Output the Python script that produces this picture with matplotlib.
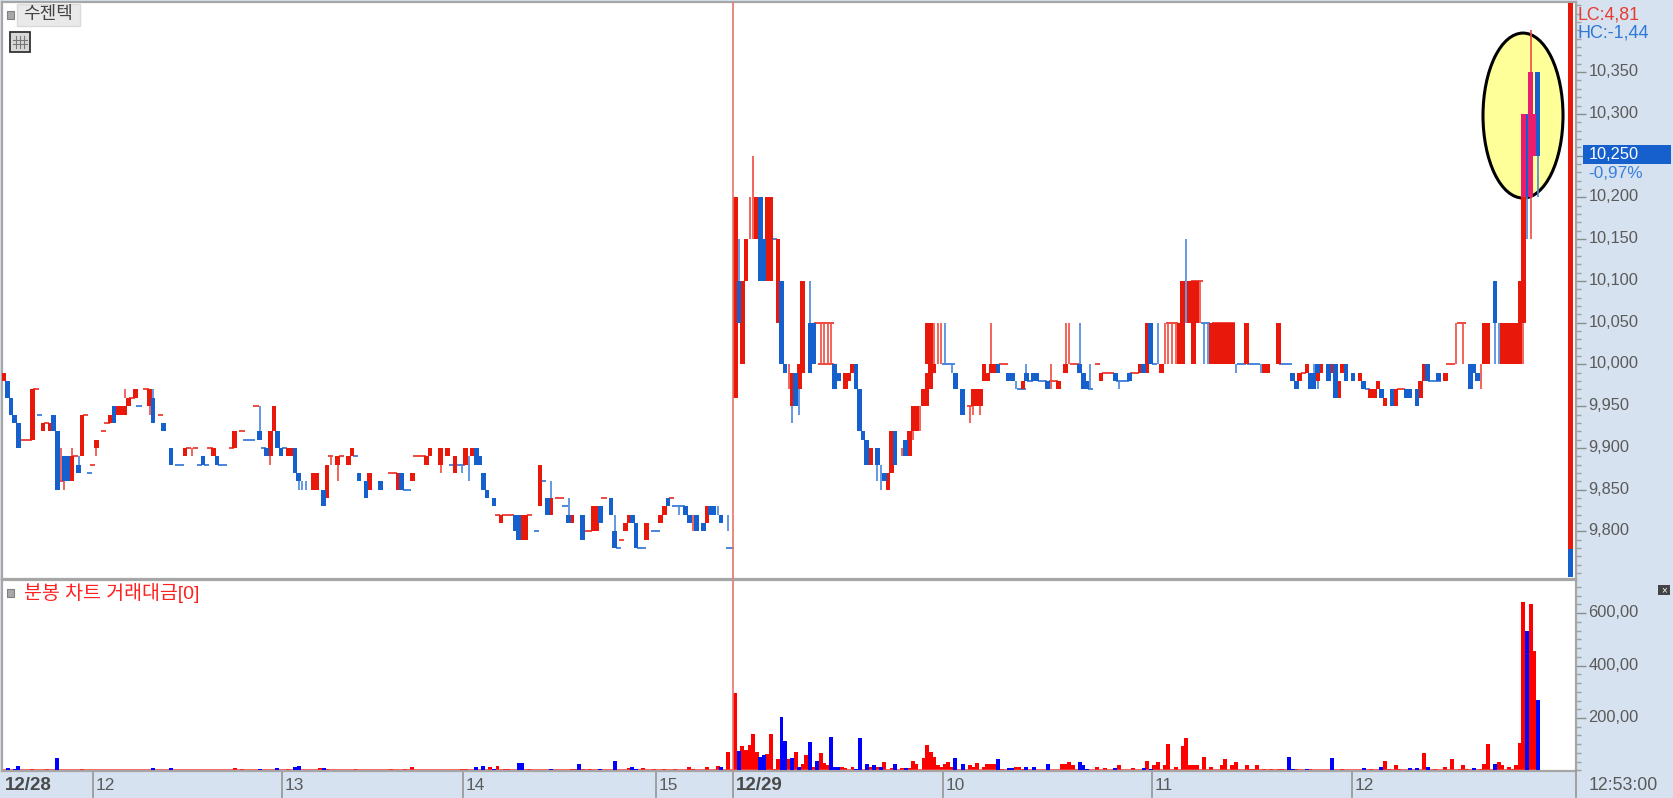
import numpy as np
import matplotlib
matplotlib.use('Agg')
import matplotlib.pyplot as plt
from matplotlib.patches import Ellipse, Rectangle
from matplotlib.ticker import MultipleLocator
from matplotlib.transforms import ScaledTranslation

plt.rcParams['font.family'] = ['Liberation Sans', 'Noto Sans CJK KR', 'DejaVu Sans']

# candle bodies, one slot per traded minute
red_slot = [1,9,12,14,20,23,27,31,33,34,
    35,36,38,42,52,60,66,76,77,81,
    82,88,89,92,95,98,99,104,112,116,
    120,121,124,126,128,131,133,141,147,148,
    152,155,161,167,168,176,177,182,186,187,
    199,207,209,210,213,216,217,219,225,226,
    223,238,239,240,245,250,251,256,257,258,
    260,261,262,261,262,263,274,275,276,277,
    278,279,280,288,298,300,310,321,323,327,
    332,333,335,336,337,341,342,343,344,345,
    346,347,351,356,357,360,366,368,371,372,
    375,377,378,383,386,387,388,390,393,400,
    401,407,418,419,423,424,425,426,427,428,429]
red_lo = [9980,9910,9920,9920,9860,9890,9900,9930,9940,9940,
    9940,9950,9960,9950,9890,9890,9900,9890,9920,9890,
    9890,9850,9850,9840,9880,9880,9890,9850,9850,9860,
    9880,9890,9880,9890,9870,9880,9890,9810,9790,9790,
    9830,9820,9810,9800,9800,9800,9810,9790,9810,9820,
    9810,9960,10000,10100,10150,10100,10100,10050,9970,9990,
    9950,9970,9980,9990,9880,9850,9870,9890,9920,9920,
    9950,9950,9970,10000,10000,9990,9950,9950,9950,9980,
    9980,9990,9990,9970,9970,9990,9980,9990,9990,9990,
    10000,10000,10050,10000,10050,10000,10000,10000,10000,10000,
    10000,10000,10000,9990,9990,10000,9980,9990,9980,9990,
    9990,9960,9990,9980,9960,9960,9970,9950,9950,9960,
    9980,9980,10000,10000,10000,10000,10000,10000,10000,10000,10050]
red_hi = [9990,9970,9930,9930,9890,9940,9910,9940,9950,9950,
    9950,9960,9970,9970,9900,9900,9920,9920,9950,9900,
    9900,9870,9870,9880,9890,9890,9900,9870,9870,9870,
    9890,9900,9900,9900,9890,9900,9900,9820,9820,9820,
    9880,9840,9820,9830,9830,9810,9820,9810,9820,9830,
    9830,10200,10100,10150,10200,10200,10200,10150,10000,10100,
    9990,9990,9990,10000,9900,9870,9920,9920,9950,9950,
    9970,9990,10000,10050,10050,10000,9970,9970,9970,10000,
    9990,10000,10000,9980,9980,10000,9990,10000,10050,10000,
    10050,10100,10100,10100,10100,10050,10050,10050,10050,10050,
    10050,10050,10050,10000,10000,10050,9990,10000,9990,10000,
    10000,9980,10000,9990,9970,9970,9980,9960,9970,9980,
    10000,9990,10050,10050,10050,10050,10050,10050,10050,10100,10200]

blue_slot = [2,3,4,5,15,16,18,19,22,32,
    43,46,48,57,61,73,75,78,79,83,
    84,91,101,103,107,113,134,135,136,137,
    139,145,146,154,160,164,169,172,173,178,
    179,188,193,194,196,198,200,201,203,
    208,214,215,220,221,224,228,229,235,236,
    241,242,243,244,247,249,252,255,269,271,
    281,284,285,289,291,292,295,304,305,306,
    314,318,322,324,364,365,369,370,371,374,
    376,379,381,384,389,392,396,397,399,402,
    405,414,415,416,421,430,433]
blue_lo = [9960,9940,9930,9900,9920,9850,9860,9860,9870,9930,
    9930,9920,9880,9880,9880,9910,9890,9900,9890,9870,
    9860,9830,9860,9840,9850,9850,9880,9880,9850,9840,
    9830,9800,9790,9820,9810,9790,9810,9820,9780,9810,
    9780,9830,9820,9810,9800,9800,9820,9820,9810,
    10050,10100,10100,10000,9990,9950,9990,10000,9970,9980,
    9970,9920,9910,9880,9880,9860,9880,9890,9970,9940,
    9990,9980,9980,9980,9980,9980,9970,9990,9970,9970,
    9980,9980,9990,10000,9980,9970,9970,9970,9990,9980,
    9960,9980,9980,9970,9960,9950,9960,9960,9950,9980,
    9980,9970,9990,9980,10050,10200,10250]
blue_hi = [9980,9960,9940,9930,9940,9920,9890,9890,9880,9950,
    9960,9930,9900,9890,9890,9920,9900,9920,9900,9900,
    9870,9850,9870,9860,9860,9870,9900,9890,9870,9850,
    9840,9820,9820,9840,9820,9820,9830,9840,9800,9820,
    9810,9840,9830,9820,9820,9810,9830,9830,9820,
    10100,10200,10150,10100,10000,9990,10050,10050,10000,9990,
    10000,9970,9920,9910,9900,9870,9920,9910,9990,9970,
    10000,9990,9990,9990,9990,9990,9980,10000,9990,9980,
    9990,9990,10000,10050,9990,9980,9990,9990,10000,10000,
    10000,10000,9990,9980,9970,9970,9970,9970,9970,10000,
    9990,10000,10000,9990,10100,10300,10350]

pink_slot = [429,431,432]
pink_lo = [10200,10200,10250]
pink_hi = [10300,10350,10300]

# thin wicks and doji bars
red_wick_slot = [17,18,20,27,35,42,54,76,93,95,124,195,
    211,212,222,231,232,233,234,263,264,265,254,257,259,273,274,276,279,296,300,301,
    328,329,330,331,338,410,412,417,429,431,431]
red_wick_lo = [9860,9850,9890,9890,9960,9940,9890,9880,9880,9860,9870,9800,
    10150,10150,9970,10000,10000,10000,10000,10000,10000,10000,9890,9910,9920,9930,9940,9940,10000,9970,10000,10000,
    10000,10000,10000,10000,10050,10000,10000,9970,10000,10350,10150]
red_wick_hi = [9900,9860,9900,9900,9970,9950,9900,9890,9890,9880,9880,9820,
    10200,10250,10000,10050,10050,10050,10050,10050,10050,10050,9900,9920,9950,9950,9950,9950,10050,10000,10050,10050,
    10050,10050,10050,10050,10100,10050,10050,10000,10050,10400,10200]

blue_wick_slot = [22,43,73,84,85,86,130,132,155,160,173,191,202,205,
    208,223,225,228,247,248,266,268,286,289,304,307,315,326,334,339,340,348,355,370,371,421,422,430,433]
blue_wick_lo = [9880,9960,9920,9850,9850,9850,9870,9860,9840,9820,9800,9820,9820,9800,
    10100,9930,9940,10050,9860,9850,10000,9990,9970,9990,10000,9970,9970,10000,10050,10000,10000,9990,9990,9990,9970,10000,10000,10150,10200]
blue_wick_hi = [9890,9970,9950,9860,9860,9860,9880,9890,9860,9840,9820,9830,9830,9820,
    10150,9950,9990,10100,9880,9880,10050,10000,9980,10000,10050,10000,9980,10050,10150,10050,10050,10000,10000,10000,9980,10050,10050,10200,10250]

# bars with open == close
red_flat_slot = [6,7,8,10,13,17,21,24,26,29,30,37,41,45,53,55,59,65,68,72,93,96,110,111,
    117,118,119,140,142,143,144,149,157,158,170,165,166,175,189,
    230,231,232,233,234,231,232,233,234,273,282,283,296,297,302,303,309,
    311,312,313,319,320,367,329,330,331,336,337,338,342,343,344,345,346,347,394,395,408,409,411,412]
red_flat_val = [9910,9910,9910,9970,9930,9860,9890,9940,9880,9920,9930,9960,9970,9940,9900,9900,9900,9900,9920,9950,9890,9890,9870,9870,
    9890,9890,9890,9820,9820,9820,9820,9820,9840,9840,9840,9800,9800,9790,9840,
    10050,10050,10050,10050,10050,10000,10000,10000,10000,9950,10000,10000,9980,9980,10000,10000,10000,
    9990,9990,9990,9990,9990,9990,10050,10050,10050,10100,10100,10100,10050,10050,10050,10050,10050,10050,9970,9970,10000,10000,10050,10050]
blue_flat_slot = [11,25,39,50,51,56,58,62,63,69,70,71,74,80,100,114,115,127,129,130,
    151,153,159,174,180,181,184,185,190,191,192,205,206,
    218,266,267,268,287,288,290,293,294,307,315,316,317,325,339,340,
    349,350,352,353,354,361,362,363,385,403,404,405]
blue_flat_val = [9940,9870,9950,9880,9880,9880,9880,9880,9880,9910,9910,9910,9900,9900,9890,9850,9850,9880,9880,9880,
    9800,9860,9830,9780,9780,9780,9800,9800,9830,9830,9830,9780,9780,
    10150,10000,10000,10000,9970,9970,9980,9980,9980,9970,9980,9980,9980,10000,10050,10050,
    10000,10000,10000,10000,10000,10000,10000,10000,9970,9980,9980,9980]

# traded value bars
vol_red_slot = [9,13,23,66,68,81,90,92,100,110,114,116,130,131,138,140,142,143,149,161,162,164,166,169,177,181,184,187,190,194,195,199,202,205,
    207,209,210,211,212,213,216,217,218,219,222,224,226,227,229,231,232,233,237,238,240,245,247,249,251,254,256,257,258,260,261,262,263,264,265,266,267,268,
    273,274,275,277,278,279,280,282,286,287,288,299,300,301,302,309,311,315,319,323,325,326,328,329,331,333,334,335,336,337,
    339,341,344,345,347,348,351,352,353,354,356,358,360,361,365,369,378,386,390,391,393,394,401,404,407,409,411,412,413,417,418,419,422,423,425,426,427,428,429,431,432]
vol_red_val = [7,7,7,8,7,6,8,6,7,7,7,12,7,7,14,16,7,7,7,7,7,7,7,7,11,11,7,7,7,12,7,12,17,70,
    295,94,79,99,140,70,64,140,6,43,43,71,25,58,13,66,30,19,13,8,13,15,13,32,9,8,8,38,25,48,99,71,53,19,15,25,32,13,
    19,13,30,13,23,23,23,6,13,13,4,24,25,32,19,14,9,19,9,37,19,32,19,100,14,94,122,19,19,19,
    53,14,19,42,19,32,19,7,7,19,7,7,7,7,7,7,7,7,35,7,19,7,66,7,13,42,7,19,7,7,25,100,32,19,14,7,22,103,644,634,457]
vol_blue_slot = [2,4,5,16,18,22,32,43,46,48,57,61,73,75,78,83,84,87,91,101,102,107,134,136,139,146,147,155,163,169,173,178,179,188,193,200,203,
    203,208,214,215,220,221,223,225,228,230,234,235,236,241,242,244,246,248,252,255,269,271,281,284,285,289,291,292,295,304,305,306,314,322,324,
    363,364,368,375,384,389,397,399,402,415,421,430,433]
vol_blue_val = [8,6,16,48,2,2,2,8,2,8,2,2,7,3,8,15,18,3,8,3,3,3,12,18,7,30,27,7,25,6,35,12,7,3,3,3,12,
    12,76,53,60,203,112,48,13,107,38,128,13,13,6,123,25,19,13,25,8,48,25,43,8,8,14,14,3,25,32,19,6,9,9,5,
    53,7,7,48,9,13,9,9,13,9,25,532,267]

hour_slots = [26, 79.3, 130.3, 184.6, 206.3, 265.5, 324.4, 380.7]
hour_labels = ['12', '13', '14', '15', '12/29', '10', '11', '12']
price_ticks = [9800,9850,9900,9950,10000,10050,10100,10150,10200,10250,10300,10350]
price_labels = ['9,800','9,850','9,900','9,950','10,000','10,050','10,100','10,150','10,200','','10,300','10,350']
value_ticks = [200, 400, 600]
value_labels = ['200,00', '400,00', '600,00']

W, H = 1674, 798
RED, BLUE = '#E8190A', '#1560CC'
AXC = '#A6A6A6'
BG = '#D6E2F0'
TXT = '#5A5A5A'

def fx(x): return x / W
def fy(y): return 1 - y / H
def slot_of(px): return (px - 0.5) / 3.55

fig = plt.figure(figsize=(W / 100, H / 100), dpi=100, facecolor=BG)
ax = fig.add_axes([fx(2), fy(579), (1576 - 2) / W, (579 - 2) / H])
ax2 = fig.add_axes([fx(2), fy(771), (1576 - 2) / W, (771 - 580) / H])
for a in (ax, ax2):
    a.set_xlim(slot_of(2), slot_of(1576))
    a.set_xticks([])
    a.yaxis.tick_right()
    for s in a.spines.values():
        s.set_color(AXC)
        s.set_linewidth(1.6)
    a.tick_params(axis='y', which='major', length=7, width=1, color='#8C8C8C', labelcolor=TXT, labelsize=11.8, pad=2)
    a.tick_params(axis='y', which='minor', length=3.5, width=1, color='#A0A0A0')

ax.set_ylim(9743, 10434)
ax.set_yticks(price_ticks)
ax.set_yticklabels(price_labels)
ax.yaxis.set_minor_locator(MultipleLocator(10))

ax2.set_ylim(-2, 726)
ax2.set_yticks(value_ticks)
ax2.set_yticklabels(value_labels)
ax2.yaxis.set_minor_locator(MultipleLocator(200 / 6))

# labels sit a little above their ticks
lift = ScaledTranslation(0, 2 / 100, fig.dpi_scale_trans)
for a in (ax, ax2):
    for lab in a.get_yticklabels():
        lab.set_transform(lab.get_transform() + lift)

# highlight ellipse behind the last candles
ax.add_patch(Ellipse((slot_of(1523), 10298), 80 / 3.55, 165 / 0.8352, fc='#FFFF99', ec='black', lw=2.2, zorder=1))

def bodies(slots, lo, hi, col):
    lo = np.array(lo)
    hi = np.array(hi)
    ax.bar(slots, hi - lo, bottom=lo, width=1.3, color=col, linewidth=0, zorder=3)

bodies(red_slot, red_lo, red_hi, RED)
bodies(blue_slot, blue_lo, blue_hi, BLUE)
bodies(pink_slot, pink_lo, pink_hi, '#E91E6E')
ax.vlines(red_wick_slot, red_wick_lo, red_wick_hi, color='#EE4A3E', lw=1.2, zorder=2.5)
ax.vlines(blue_wick_slot, blue_wick_lo, blue_wick_hi, color='#4A86DC', lw=1.2, zorder=2.5)
red_flat_slot = np.array(red_flat_slot)
blue_flat_slot = np.array(blue_flat_slot)
ax.hlines(red_flat_val, red_flat_slot - 0.75, red_flat_slot + 0.75, color='#EE4A3E', lw=1.4, zorder=2.5)
ax.hlines(blue_flat_val, blue_flat_slot - 0.75, blue_flat_slot + 0.75, color='#4A86DC', lw=1.4, zorder=2.5)

# day separator and price scale bar on the right edge
day_slot = hour_slots[4]
ax.axvline(day_slot, color='#E8746A', lw=1.2, zorder=4)
ax2.axvline(day_slot, color='#E8746A', lw=1.2, zorder=4)
fig.patches.append(Rectangle((fx(1568.5), fy(549)), 5 / W, 546 / H, transform=fig.transFigure, fc=RED, ec='none', zorder=5))
fig.patches.append(Rectangle((fx(1568.5), fy(577)), 5 / W, 28 / H, transform=fig.transFigure, fc=BLUE, ec='none', zorder=5))

ax2.bar(vol_red_slot, vol_red_val, width=1.1, color='#FF0000', linewidth=0, zorder=2)
ax2.bar(vol_blue_slot, vol_blue_val, width=1.1, color='#0000FF', linewidth=0, zorder=3)
ax2.hlines(1, 0, 433, color='#FF3030', lw=1.8, zorder=2.5)

# bottom time strip
ax_sep = fig.add_axes([fx(2), 0, (1576 - 2) / W, 26 / H])
ax_sep.set_xlim(slot_of(2), slot_of(1576))
ax_sep.set_ylim(0, 1)
ax_sep.axis('off')
ax_sep.vlines(hour_slots, 0, 1, color='#9A9A9A', lw=1.3)
for s, t in zip(hour_slots, hour_labels):
    bold = '/' in t
    ax_sep.text(s + 0.8, 0.5, t, fontsize=13.5 if bold else 12.4, color='#4A4A4A' if bold else TXT,
                fontweight='bold' if bold else 'normal', va='center', ha='left')
fig.text(fx(5), fy(785), '12/28', fontsize=13.5, fontweight='bold', color='#4A4A4A', va='center')
fig.text(fx(1589), fy(785), '12:53:00', fontsize=12.8, color=TXT, va='center')
fig.add_artist(plt.Line2D([fx(1576), fx(1576)], [0, fy(771)], color='#9A9A9A', lw=1.3))

# right side readouts
fig.text(fx(1578), fy(15), 'LC:4,81', fontsize=12.8, color='#E83A2E', va='center')
fig.text(fx(1578), fy(33), 'HC:-1,44', fontsize=13, color='#2F78D8', va='center')
fig.patches.append(Rectangle((fx(1583), fy(164)), 88 / W, 19 / H, transform=fig.transFigure, fc=BLUE, ec='none'))
fig.text(fx(1589), fy(154.5), '10,250', fontsize=11.8, color='white', va='center')
fig.text(fx(1588), fy(173), '-0,97%', fontsize=12.4, color='#3A80DC', va='center')

# small widgets and titles
fig.patches.append(Rectangle((fx(17), fy(26)), 63 / W, 22 / H, transform=fig.transFigure, fc='#E9E9E9', ec='#DADADA', lw=1, zorder=6))
fig.text(fx(48.5), fy(15), '수젠텍', fontsize=13, color='#444444', ha='center', va='center', zorder=7)
fig.patches.append(Rectangle((fx(7), fy(19)), 7 / W, 8 / H, transform=fig.transFigure, fc='#A8A8A8', ec='#808080', lw=0.8, zorder=6))
fig.patches.append(Rectangle((fx(10), fy(52)), 20 / W, 20 / H, transform=fig.transFigure, fc='#D8D8D8', ec='#333333', lw=1.3, zorder=6))
for gx in (16, 20, 24):
    fig.add_artist(plt.Line2D([fx(gx), fx(gx)], [fy(36), fy(48)], color='#777777', lw=0.8, zorder=7))
for gy in (40, 44):
    fig.add_artist(plt.Line2D([fx(13), fx(27)], [fy(gy), fy(gy)], color='#777777', lw=0.8, zorder=7))
fig.patches.append(Rectangle((fx(7), fy(597)), 7 / W, 8 / H, transform=fig.transFigure, fc='#A8A8A8', ec='#808080', lw=0.8, zorder=6))
fig.text(fx(24), fy(593), '분봉 차트 거래대금[0]', fontsize=14, color='#FF2020', va='center', zorder=7)
fig.patches.append(Rectangle((fx(1658), fy(595)), 12 / W, 10 / H, transform=fig.transFigure, fc='#444444', ec='none', zorder=6))
fig.text(fx(1664), fy(590), '×', fontsize=7, color='white', ha='center', va='center', zorder=7)

fig.savefig('out.png', dpi=100, facecolor=BG)
